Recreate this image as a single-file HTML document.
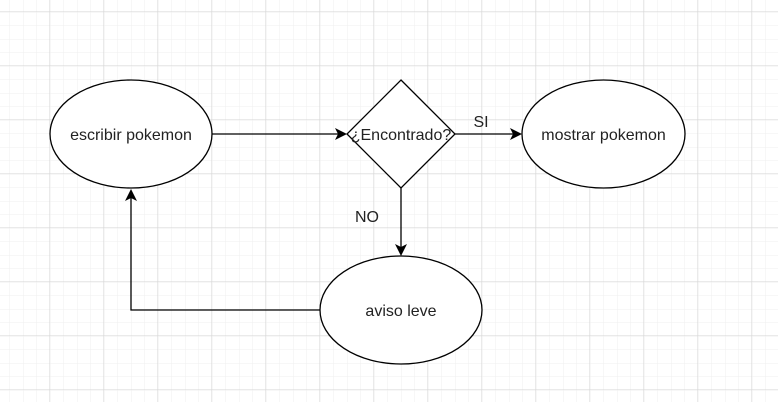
<!DOCTYPE html>
<html><head><meta charset="utf-8"><style>
html,body{margin:0;padding:0;background:#fff;}
svg{display:block;}
text{font-family:"Liberation Sans",Arial,sans-serif;font-size:16px;fill:#222;}
</style></head><body>
<svg width="778" height="402" viewBox="0 0 778 402" xmlns="http://www.w3.org/2000/svg">
<defs>
<pattern id="minor" x="-4" y="12" width="13.5" height="13.5" patternUnits="userSpaceOnUse">
<path d="M0 0H13.5M0 0V13.5" stroke="#efefef" stroke-width="1" fill="none"/>
</pattern>
<pattern id="major" x="-4.5" y="11.5" width="54" height="54" patternUnits="userSpaceOnUse">
<path d="M0 0H54M0 0V54" stroke="#d6d6d6" stroke-width="1" fill="none"/>
</pattern>
</defs>
<rect width="778" height="402" fill="url(#minor)"/>
<rect width="778" height="402" fill="url(#major)"/>
<g stroke="#000" stroke-width="1.3" fill="#fff">
<ellipse cx="131" cy="134" rx="81" ry="54"/>
<polygon points="401,80 455,134 401,188 347,134"/>
<ellipse cx="603.5" cy="134" rx="81.5" ry="54"/>
<ellipse cx="401" cy="310" rx="81" ry="54"/>
</g>
<g stroke="#000" stroke-width="1.3" fill="none">
<path d="M212 134H340"/>
<path d="M455 134H516"/>
<path d="M401 188V251"/>
<path d="M320 310H131V195"/>
</g>
<g fill="#000">
<path d="M347 134L335 128L338 134L335 140Z"/>
<path d="M522 134L510 128L513 134L510 140Z"/>
<path d="M401 256L395 244L401 247L407 244Z"/>
<path d="M131 189L125 201L131 198L137 201Z"/>
</g>
<text x="131" y="140" text-anchor="middle">escribir pokemon</text>
<text x="401" y="140" text-anchor="middle">¿Encontrado?</text>
<text x="603.5" y="140" text-anchor="middle">mostrar pokemon</text>
<text x="401" y="316" text-anchor="middle">aviso leve</text>
<text x="481" y="127" text-anchor="middle">SI</text>
<text x="367" y="222" text-anchor="middle">NO</text>
</svg>
</body></html>
